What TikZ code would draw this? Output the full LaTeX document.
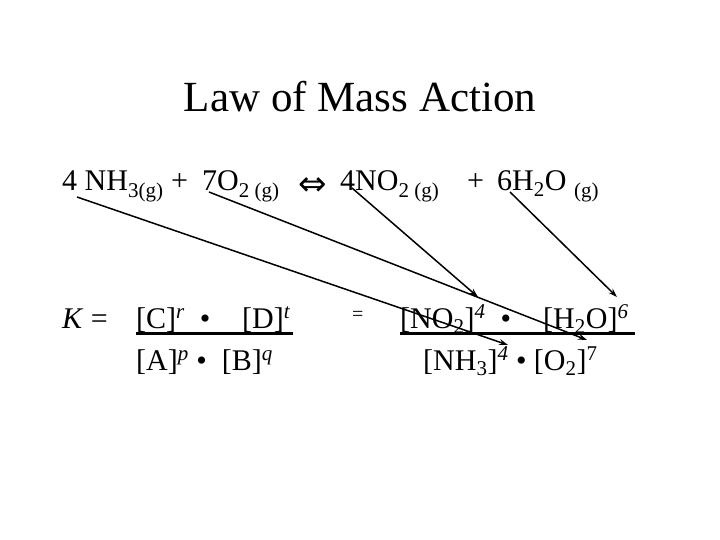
\documentclass[tikz,border=0pt]{standalone}
\usepackage{fontspec}
\setmainfont{Liberation Serif}
\newfontfamily\symf{DejaVu Sans}
\usetikzlibrary{arrows.meta}
\newcommand{\sbs}[1]{\textsubscript{#1}}
\newcommand{\sps}[1]{\textsuperscript{#1}}
\begin{document}
\begin{tikzpicture}[x=1pt,y=-1pt,
  t/.style={anchor=base west,inner sep=0pt,font=\fontsize{30}{32}\selectfont},
  arr/.style={line width=1.5pt,-{Stealth[length=9pt,width=6pt]}},
  fr/.style={line width=3pt}]
\useasboundingbox (0,0) rectangle (720,540);
\node[anchor=base,inner sep=0pt,font=\fontsize{43}{46}\selectfont] (title) at (360,112) {Law of Mass Action};
\node[t] (e1) at (62,191) {4 NH\sbs{3(g)} +};
\node[t] (e2) at (202,191) {7O\sbs{2 (g)}};
\node[t] (e3) at (298,196) {{\symf\fontsize{34}{36}\selectfont ⇔}};
\node[t] (e4) at (340,191) {4NO\sbs{2 (g)}};
\node[t] (e5) at (467,191) {+};
\node[t] (e6) at (497,191) {6H\sbs{2}O \sbs{(g)}};
\node[t] (k) at (62,328) {\textit{K} =};
\node[t] (n1) at (136,328) {[C]\sps{\textit{r}} ~•};
\node[t] (n2) at (242,328) {[D]\sps{\textit{t}}};
\node[t] (d1) at (136,370) {[A]\sps{\textit{p}} • ~[B]\sps{\textit{q}}};
\node[t,font=\fontsize{20}{22}\selectfont] (eq) at (352,320) {=};
\node[t] (n3) at (400,328) {[NO\sbs{2}]\sps{\textit{4}} ~•};
\node[t] (n4) at (543,328) {[H\sbs{2}O]\sps{\textit{6}}};
\node[t] (d2) at (423,370) {[NH\sbs{3}]\sps{\textit{4}} • [O\sbs{2}]\sps{7}};
\coordinate (l1a) at (136,333); \coordinate (l1b) at (293,333);
\coordinate (l2a) at (400,333); \coordinate (l2b) at (635,333);
\draw[fr] (l1a) -- (l1b);
\draw[fr] (l2a) -- (l2b);
\coordinate (a1) at (77,197); \coordinate (b1) at (508,345);
\coordinate (a2) at (209,192); \coordinate (b2) at (587,340);
\coordinate (a3) at (352,188); \coordinate (b3) at (478,297);
\coordinate (a4) at (510,192); \coordinate (b4) at (617,297);
\draw[arr] (a1) -- (b1);
\draw[arr] (a2) -- (b2);
\draw[arr] (a3) -- (b3);
\draw[arr] (a4) -- (b4);
\end{tikzpicture}
\end{document}
